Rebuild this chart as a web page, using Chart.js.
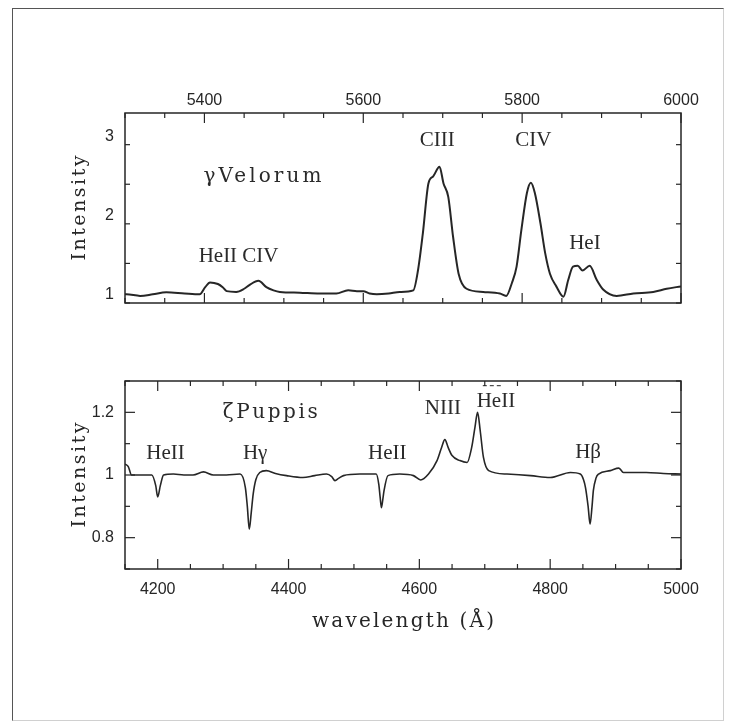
<!DOCTYPE html>
<html>
<head>
<meta charset="utf-8">
<script src="https://cdn.jsdelivr.net/npm/chart.js@4.4.0/dist/chart.umd.min.js"></script>
<style>
  html, body { margin: 0; padding: 0; background: #fff; }
  #page { position: relative; width: 731px; height: 727px; overflow: hidden; background: #fff; }
  #frame {
    position: absolute; left: 12px; top: 8px; width: 712px; height: 713px; box-sizing: border-box;
    border-left: 1px solid #555; border-top: 1px solid #555;
    border-right: 1px solid #d0d0d0; border-bottom: 1px solid #d0d0d0;
  }
  .box { position: absolute; left: 0; width: 731px; }
</style>
</head>
<body>
<div id="page">
  <div id="frame"></div>
  <div class="box" style="top:60px;height:270px"><canvas id="velorum"></canvas></div>
  <div class="box" style="top:330px;height:330px"><canvas id="puppis"></canvas></div>
</div>
<script>
// gamma Velorum spectrum (wavelength in A, relative intensity)
const velWave = [5300, 5302, 5319, 5335, 5352, 5375, 5394, 5401, 5407, 5417, 5423, 5428, 5440, 5450, 5457,
  5468, 5478, 5487, 5495, 5520, 5545, 5566, 5581, 5592, 5600, 5608, 5617, 5632, 5646, 5663, 5669, 5675,
  5682, 5688, 5696, 5701, 5707, 5713, 5720, 5730, 5751, 5772, 5780, 5787, 5793, 5799, 5806, 5811, 5816,
  5823, 5829, 5835, 5843, 5852, 5858, 5864, 5870, 5876, 5885, 5894, 5902, 5919, 5940, 5965, 5982, 6000];
const velFlux = [1.01, 1.01, 0.99, 1.01, 1.035, 1.02, 1.01, 1.10, 1.16, 1.14, 1.10, 1.05, 1.04, 1.08, 1.13,
  1.18, 1.10, 1.06, 1.04, 1.03, 1.02, 1.02, 1.06, 1.05, 1.05, 1.02, 1.01, 1.02, 1.04, 1.06, 1.32, 1.78,
  2.41, 2.50, 2.62, 2.41, 2.24, 1.74, 1.27, 1.08, 1.04, 1.02, 0.99, 1.15, 1.36, 1.82, 2.29, 2.42, 2.29,
  1.91, 1.53, 1.27, 1.11, 0.98, 1.19, 1.36, 1.37, 1.31, 1.37, 1.19, 1.07, 0.99, 1.02, 1.04, 1.08, 1.11];

// zeta Puppis spectrum
const pupWave = [4150, 4155, 4160, 4178, 4191, 4197, 4200, 4204, 4209, 4224, 4240, 4254, 4270, 4285, 4305,
  4326, 4334, 4337, 4340, 4343, 4346, 4350, 4356, 4366, 4380, 4397, 4422, 4440, 4458, 4466, 4471, 4477,
  4484, 4509, 4534, 4538, 4540, 4542, 4544, 4546, 4552, 4570, 4591, 4602, 4614, 4627, 4634, 4639, 4644,
  4650, 4662, 4673, 4680, 4685, 4689, 4693, 4698, 4706, 4734, 4770, 4800, 4831, 4846, 4851, 4854, 4858,
  4861, 4864, 4866, 4870, 4874, 4892, 4905, 4912, 4947, 4973, 5000];
const pupFlux = [1.035, 1.027, 1.0, 1.0, 1.0, 0.966, 0.93, 0.966, 1.0, 1.003, 1.0, 1.0, 1.01, 1.0, 1.0,
  1.003, 0.96, 0.90, 0.827, 0.88, 0.94, 0.985, 1.008, 1.014, 1.005, 0.998, 0.992, 0.998, 1.003, 0.995, 0.982, 0.99,
  0.998, 1.003, 1.003, 0.97, 0.93, 0.896, 0.92, 0.95, 0.998, 1.003, 0.998, 0.984, 1.003, 1.046, 1.088, 1.113, 1.088,
  1.062, 1.046, 1.04, 1.088, 1.152, 1.20, 1.142, 1.056, 1.014, 1.003, 0.998, 0.992, 1.008, 1.003, 0.985, 0.96, 0.90,
  0.843, 0.90, 0.95, 0.99, 1.003, 1.014, 1.022, 1.008, 1.008, 1.005, 1.003];

// labelled ticks
const velXTicks = [5400, 5600, 5800, 6000];
const velYTicks = [1, 2, 3];
const pupXTicks = [4200, 4400, 4600, 4800, 5000];
const pupYTicks = [0.8, 1, 1.2];

// line identifications (wide = typewriter-style lettering, target width in px)
const velNotes = [
  { text: 'γVelorum', x: 5473, y: 2.49, wide: 118 },
  { text: 'HeII CIV', x: 5443, y: 1.49 },
  { text: 'CIII', x: 5693, y: 2.95 },
  { text: 'CIV', x: 5814, y: 2.95 },
  { text: 'HeI', x: 5879, y: 1.65 }
];
const pupNotes = [
  { text: 'ζPuppis', x: 4372, y: 1.2, wide: 95 },
  { text: 'HeII', x: 4212, y: 1.069 },
  { text: 'Hγ', x: 4349, y: 1.07 },
  { text: 'HeII', x: 4551, y: 1.07 },
  { text: 'NIII', x: 4636, y: 1.213 },
  { text: 'HeII', x: 4717, y: 1.236 },
  { text: 'Hβ', x: 4858, y: 1.072 }
];

const INK = '#262626';

// slab serif text spread to a given width, like the typewriter lettering of the original
function spacedText(ctx, text, cx, cy, size, width, rot) {
  ctx.save();
  ctx.translate(cx, cy);
  if (rot) ctx.rotate(rot);
  ctx.font = size + 'px "DejaVu Serif"';
  ctx.textAlign = 'left';
  ctx.textBaseline = 'middle';
  const natural = ctx.measureText(text).width;
  const sp = Math.max(0, (width - natural) / (text.length - 1));
  ctx.letterSpacing = sp + 'px';
  ctx.fillText(text, -width / 2, 0);
  ctx.restore();
}

// box frame, inward ticks on all four sides, axis titles and the line labels
const frameTicks = {
  id: 'frameTicks',
  afterDraw(chart, args, opts) {
    const { ctx, chartArea: a, scales: { x, y } } = chart;
    ctx.save();
    ctx.strokeStyle = INK;
    ctx.lineWidth = 1.5;
    ctx.strokeRect(a.left, a.top, a.right - a.left, a.bottom - a.top);
    ctx.lineWidth = 1.2;
    const seg = (x1, y1, x2, y2) => { ctx.beginPath(); ctx.moveTo(x1, y1); ctx.lineTo(x2, y2); ctx.stroke(); };
    for (let k = 0; ; k++) {
      const v = x.min + k * opts.xStep;
      if (v > x.max + 1e-6) break;
      const len = opts.xMajor.some(m => Math.abs(m - v) < 1e-6) ? 10 : 5;
      const px = x.getPixelForValue(v);
      seg(px, a.top, px, a.top + len);
      seg(px, a.bottom, px, a.bottom - len);
    }
    for (let k = 0; ; k++) {
      const v = y.min + k * opts.yStep;
      if (v > y.max + 1e-6) break;
      const len = opts.yMajor.some(m => Math.abs(m - v) < 1e-6) ? 10 : 5;
      const py = y.getPixelForValue(v);
      seg(a.left, py, a.left + len, py);
      seg(a.right, py, a.right - len, py);
    }

    ctx.fillStyle = INK;
    spacedText(ctx, 'Intensity', a.left - 45, (a.top + a.bottom) / 2, 19, 105, -Math.PI / 2);
    if (opts.xTitle) spacedText(ctx, opts.xTitle, (a.left + a.right) / 2, a.bottom + 53, 20, 182, 0);

    ctx.fillStyle = '#2a2a2a';
    ctx.textAlign = 'center';
    ctx.textBaseline = 'middle';
    opts.notes.forEach(n => {
      const px = x.getPixelForValue(n.x), py = y.getPixelForValue(n.y);
      if (n.wide) {
        spacedText(ctx, n.text, px, py, 20, n.wide, 0);
      } else {
        ctx.font = '21px "Liberation Serif"';
        ctx.fillText(n.text, px, py);
      }
    });
    (opts.dashes || []).forEach(d => {
      ctx.setLineDash([4, 3]);
      ctx.lineWidth = 1;
      seg(x.getPixelForValue(d.x1), y.getPixelForValue(d.y), x.getPixelForValue(d.x2), y.getPixelForValue(d.y));
    });
    ctx.restore();
  }
};

function fmt(v) { return String(Math.round(v * 10) / 10); }

function makeChart(id, wave, flux, cfg) {
  return new Chart(document.getElementById(id), {
    type: 'line',
    data: {
      datasets: [{
        data: wave.map((w, i) => ({ x: w, y: flux[i] })),
        borderColor: INK,
        borderWidth: cfg.lineWidth,
        pointRadius: 0,
        cubicInterpolationMode: 'monotone',
        fill: false
      }]
    },
    options: {
      animation: false,
      responsive: true,
      maintainAspectRatio: false,
      layout: { padding: cfg.padding },
      plugins: {
        legend: { display: false },
        tooltip: { enabled: false },
        frameTicks: cfg.frame
      },
      scales: {
        x: {
          type: 'linear',
          position: cfg.xPos,
          min: cfg.xMin, max: cfg.xMax,
          afterBuildTicks: s => { s.ticks = cfg.xTicks.map(v => ({ value: v })); },
          afterFit: s => { s.height = cfg.xHeight; },
          grid: { display: false, drawTicks: false },
          border: { display: false },
          ticks: { color: INK, padding: cfg.xPad, maxRotation: 0, autoSkip: false,
                   font: { family: 'Liberation Sans', size: 16 }, callback: v => fmt(v) }
        },
        y: {
          min: cfg.yMin, max: cfg.yMax,
          afterBuildTicks: s => { s.ticks = cfg.yTicks.map(v => ({ value: v })); },
          afterFit: s => { s.width = 61; },
          grid: { display: false, drawTicks: false },
          border: { display: false },
          ticks: { color: INK, padding: 11, autoSkip: false,
                   font: { family: 'Liberation Sans', size: 16 }, callback: v => fmt(v) }
        }
      }
    },
    plugins: [frameTicks]
  });
}

makeChart('velorum', velWave, velFlux, {
  lineWidth: 2,
  padding: { left: 64, right: 50, top: 0, bottom: 27 },
  xPos: 'top', xMin: 5300, xMax: 6000, xTicks: velXTicks, xHeight: 53, xPad: 3,
  yMin: 0.9, yMax: 3.3, yTicks: velYTicks,
  frame: { xStep: 50, yStep: 0.5, xMajor: velXTicks, yMajor: velYTicks, notes: velNotes }
});

makeChart('puppis', pupWave, pupFlux, {
  lineWidth: 1.6,
  padding: { left: 64, right: 50, top: 51, bottom: 20 },
  xPos: 'bottom', xMin: 4150, xMax: 5000, xTicks: pupXTicks, xHeight: 71, xPad: 11,
  yMin: 0.7, yMax: 1.3, yTicks: pupYTicks,
  frame: { xStep: 50, yStep: 0.1, xMajor: pupXTicks, yMajor: pupYTicks, notes: pupNotes,
           xTitle: 'wavelength (Å)', dashes: [{ x1: 4697, x2: 4728, y: 1.285 }] }
});
</script>
</body>
</html>
